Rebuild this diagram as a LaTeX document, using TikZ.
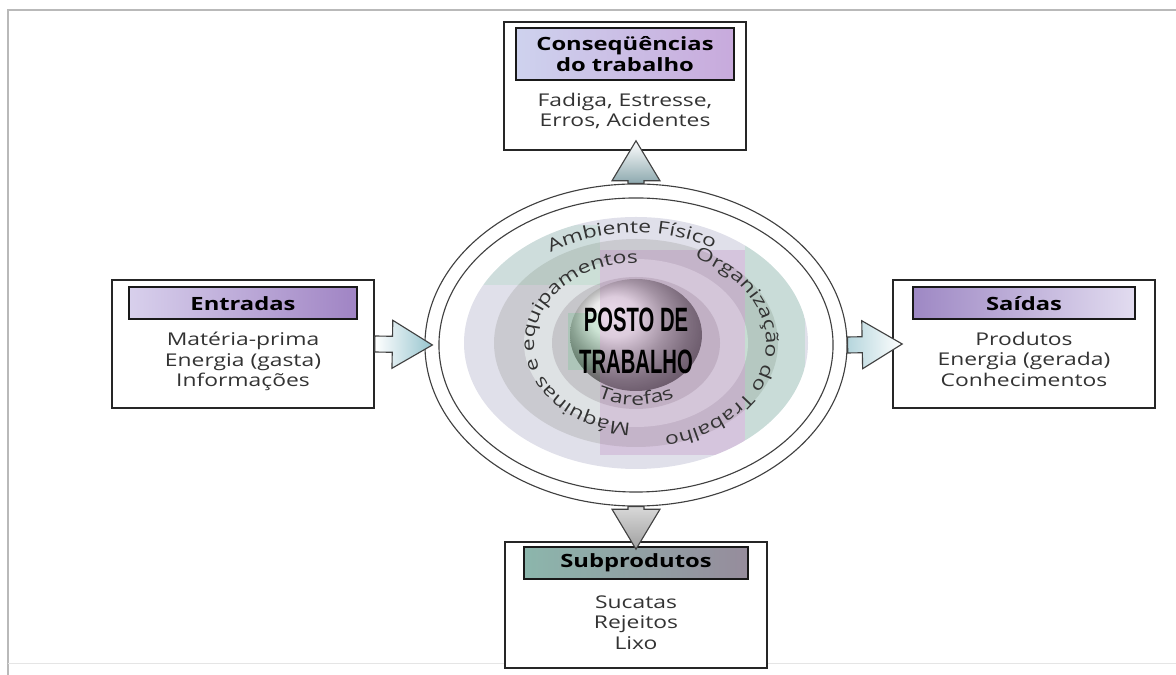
\documentclass[tikz,border=0pt]{standalone}
\usepackage{fontspec}
\setmainfont{Open Sans}[FakeStretch=1.3]
\newfontfamily\postofont{Liberation Sans}[FakeStretch=0.6]
\usetikzlibrary{shapes.geometric, positioning, calc, decorations.text}

\definecolor{entraL}{RGB}{216,208,236}
\definecolor{entraR}{RGB}{160,132,196}
\definecolor{saidaL}{RGB}{158,136,196}
\definecolor{saidaR}{RGB}{226,220,240}
\definecolor{consL}{RGB}{206,210,238}
\definecolor{consR}{RGB}{200,170,220}
\definecolor{subL}{RGB}{140,182,172}
\definecolor{subM}{RGB}{204,226,222}
\definecolor{subR}{RGB}{150,140,156}
\definecolor{setaA}{RGB}{150,196,206}
\definecolor{band1}{RGB}{224,224,234}
\definecolor{band2}{RGB}{202,202,208}
\definecolor{band3}{RGB}{222,226,228}
\definecolor{band4}{RGB}{198,198,202}

\begin{document}
\begin{tikzpicture}[
    x=0.025cm, y=0.025cm,
    font=\fontsize{12.5}{14.5}\selectfont,
    box/.style={draw=black!85, line width=1.1pt, fill=white, minimum width=6.55cm, minimum height=3.2cm},
    head/.style={draw=black!90, line width=1.1pt, minimum height=0.8cm, inner sep=1pt, align=center, font=\fontsize{13}{14.5}\selectfont\bfseries},
    body/.style={align=center, text=black!80, inner sep=0pt},
    ringline/.style={ellipse, draw=black!75, thick},
    arctext/.style={decorate, decoration={text along path, text align=center, text color=black!80, text={|\fontsize{12.5}{13}\selectfont|#1}}},
    bigarrow/.style={draw=black!75, thick, to path={
        ($(\tikztostart)!0.2cm!90:(\tikztotarget)$)
        -- ($(\tikztotarget)!1cm!(\tikztostart)!0.2cm!90:(\tikztotarget)$)
        -- ($(\tikztotarget)!1cm!(\tikztostart)!0.6cm!90:(\tikztotarget)$)
        -- (\tikztotarget)
        -- ($(\tikztotarget)!1cm!(\tikztostart)!0.6cm!-90:(\tikztotarget)$)
        -- ($(\tikztotarget)!1cm!(\tikztostart)!0.2cm!-90:(\tikztotarget)$)
        -- ($(\tikztostart)!0.2cm!-90:(\tikztotarget)$) -- cycle}}
]
\useasboundingbox (0,0) rectangle (1176,675);
% page frame
\draw[gray!55, line width=0.8pt] (8,0) -- (8,665) -- (1176,665);
\draw[gray!20] (8,12) -- (1176,12);

% centre: posto de trabalho
\coordinate (c) at (636,332);
\fill[band1] (c) ellipse [x radius=172, y radius=126];
\fill[band2] (c) ellipse [x radius=142, y radius=104];
\fill[band3] (c) ellipse [x radius=112, y radius=84];
\fill[band4] (c) ellipse [x radius=84, y radius=66];
\shade[ball color=gray!22] (636,340) ellipse [x radius=66, y radius=56];
\begin{scope}
  \clip (c) ellipse [x radius=172, y radius=126];
  \fill[violet!60, opacity=.22] (600,220) rectangle (745,425);
  \fill[green!50!teal, opacity=.1] (745,235) rectangle (805,430);
  \fill[green!50!teal, opacity=.08] (470,390) rectangle (600,450);
  \fill[green!50!teal, opacity=.12] (568,305) rectangle (600,362);
\end{scope}
\node[font=\postofont\fontsize{24}{30}\selectfont\bfseries, align=center] (posto) at (636,334) {POSTO DE\\TRABALHO};

\path[arctext={Ambiente Físico}] (c) ++(152:150 and 110) arc[start angle=152, end angle=32, x radius=150, y radius=110];
\path[arctext={Organização do Trabalho}] (c) ++(66:130 and 95) arc[start angle=66, end angle=-80, x radius=130, y radius=95];
\path[arctext={Máquinas e equipamentos}] (c) ++(272:102 and 80) arc[start angle=272, end angle=84, x radius=102, y radius=80];
\path[arctext={Tarefas}] (c) ++(235:80 and 62) arc[start angle=235, end angle=305, x radius=80, y radius=62];

\node[ringline, minimum width=10.55cm, minimum height=8.05cm] (ring) at (636,330) {};
\node[ringline, minimum width=9.85cm, minimum height=7.35cm] (ringin) at (ring) {};

% boxes
\node[box] (entradas) at (243,331) {};
\node[head, minimum width=5.7cm, left color=entraL, right color=entraR, below=0.18cm of entradas.north] (entradas-t) {Entradas};
\node[body, below=0.3cm of entradas-t] (entradas-b) {Matéria-prima\\Energia (gasta)\\Informações};

\node[box] (saidas) at (1024,331) {};
\node[head, minimum width=5.55cm, left color=saidaL, right color=saidaR, below=0.18cm of saidas.north] (saidas-t) {Saídas};
\node[body, below=0.3cm of saidas-t] (saidas-b) {Produtos\\Energia (gerada)\\Conhecimentos};

\node[box, minimum width=6.05cm] (cons) at (625,589) {};
\node[head, minimum width=5.45cm, minimum height=1.3cm, left color=consL, right color=consR, below=0.15cm of cons.north] (cons-t) {Conseqüências\\do trabalho};
\node[body, below=0.3cm of cons-t] (cons-b) {Fadiga, Estresse,\\Erros, Acidentes};

\node[box, minimum height=3.15cm] (sub) at (636,70) {};
\node[head, minimum width=5.6cm, left color=subL, middle color=subM, right color=subR, below=0.12cm of sub.north] (sub-t) {Subprodutos};
\node[body, below=0.4cm of sub-t] (sub-b) {Sucatas\\Rejeitos\\Lixo};

% arrows
\coordinate (tipE) at ($(ring.west)+(8,0)$);
\coordinate (tipS) at ($(saidas.west)+(10,0)$);
\coordinate (tipC) at ($(ring.north |- cons.south)+(0,10)$);
\coordinate (tipB) at ($(sub.north)+(0,-8)$);
\draw[bigarrow, left color=white, right color=setaA] (entradas.east) to (tipE);
\draw[bigarrow, left color=setaA!70, right color=white] (ring.east) to (tipS);
\draw[bigarrow, bottom color=setaA!60!gray, top color=white] (ring.north) to (tipC);
\draw[bigarrow, top color=gray!30, bottom color=gray!75] (ring.south) to (tipB);
\end{tikzpicture}
\end{document}
